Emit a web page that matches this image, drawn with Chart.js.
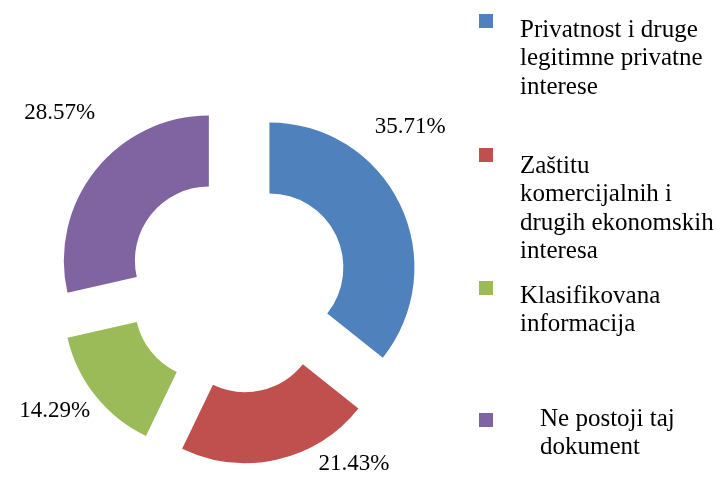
<!DOCTYPE html>
<html>
<head>
<meta charset="utf-8">
<script src="https://cdn.jsdelivr.net/npm/chart.js@4"></script>
<style>
  html, body { margin: 0; padding: 0; background: #fff; }
  #wrap { position: relative; width: 717px; height: 477px; }
</style>
</head>
<body>
<div id="wrap"><canvas id="myChart"></canvas></div>
<script>
// data
const categories = [
    ['Privatnost i druge', 'legitimne privatne', 'interese'],
    ['Zaštitu', 'komercijalnih i', 'drugih ekonomskih', 'interesa'],
    ['Klasifikovana', 'informacija'],
    ['Ne postoji taj', 'dokument']
];
const shares = [35.71, 21.43, 14.29, 28.57];
const colors = ['#4F81BD', '#C0504D', '#9BBB59', '#8064A2'];

const FONT = '"Liberation Serif", "DejaVu Serif", serif';

// pulls each slice out along its bisector without resizing it
const explode = {
    id: 'explode',
    beforeDatasetDraw(chart, args, opts) {
        args.meta.data.forEach(arc => {
            if (arc._exploded) return;
            const draw = arc.draw;
            arc.draw = function (ctx, area) {
                const mid = (this.startAngle + this.endAngle) / 2;
                ctx.save();
                ctx.translate(Math.cos(mid) * opts.distance, Math.sin(mid) * opts.distance);
                draw.call(this, ctx, area);
                ctx.restore();
            };
            arc._exploded = true;
        });
    }
};

// percentage labels outside the slices
const pctLabels = {
    id: 'pctLabels',
    afterDatasetsDraw(chart, args, opts) {
        const ctx = chart.ctx;
        const meta = chart.getDatasetMeta(0);
        const d = chart.options.plugins.explode.distance;
        ctx.save();
        ctx.font = opts.font;
        ctx.fillStyle = '#000';
        ctx.textAlign = 'center';
        ctx.textBaseline = 'middle';
        meta.data.forEach((arc, i) => {
            const mid = (arc.startAngle + arc.endAngle) / 2;
            const cx = arc.x + Math.cos(mid) * d;
            const cy = arc.y + Math.sin(mid) * d;
            const p = opts.place[i];
            const a = arc.startAngle + p.frac * (arc.endAngle - arc.startAngle);
            const r = arc.outerRadius + p.gap;
            const v = chart.data.datasets[0].data[i];
            ctx.fillText(v.toFixed(2) + '%', cx + Math.cos(a) * r, cy + Math.sin(a) * r);
        });
        ctx.restore();
    }
};

// wrapped legend on the right
const sideLegend = {
    id: 'sideLegend',
    afterDraw(chart, args, opts) {
        const ctx = chart.ctx;
        const bg = chart.data.datasets[0].backgroundColor;
        ctx.save();
        ctx.font = opts.font;
        ctx.textAlign = 'left';
        ctx.textBaseline = 'middle';
        chart.data.labels.forEach((lines, i) => {
            const it = opts.items[i];
            ctx.fillStyle = bg[i];
            ctx.fillRect(opts.boxX, it.box - 7, 14, 14);
            ctx.fillStyle = '#000';
            lines.forEach((t, j) => ctx.fillText(t, it.x, it.y + j * opts.lineHeight));
        });
        ctx.restore();
    }
};

const ctx1 = document.getElementById('myChart').getContext('2d');
const myChart = new Chart(ctx1, {
    type: 'doughnut',
    data: {
        labels: categories,
        datasets: [{
            data: shares,
            backgroundColor: colors,
            borderWidth: 0
        }]
    },
    options: {
        responsive: true,
        maintainAspectRatio: false,
        animation: false,
        radius: 145,
        cutout: '51%',
        layout: {
            padding: { left: 0, right: 243, top: 100, bottom: 11 }
        },
        plugins: {
            legend: { display: false },
            tooltip: { enabled: false },
            explode: { distance: 36 },
            pctLabels: {
                font: '23px ' + FONT,
                place: [
                    { frac: 0.35, gap: 54 },
                    { frac: 0.19, gap: 37 },
                    { frac: 0.58, gap: 42 },
                    { frac: 0.56, gap: 65 }
                ]
            },
            sideLegend: {
                font: '25px ' + FONT,
                boxX: 479,
                lineHeight: 28.5,
                items: [
                    { box: 21, x: 520, y: 30 },
                    { box: 155, x: 520, y: 166 },
                    { box: 288, x: 520, y: 296 },
                    { box: 420, x: 540, y: 419 }
                ]
            }
        }
    },
    plugins: [explode, pctLabels, sideLegend]
});
</script>
</body>
</html>
